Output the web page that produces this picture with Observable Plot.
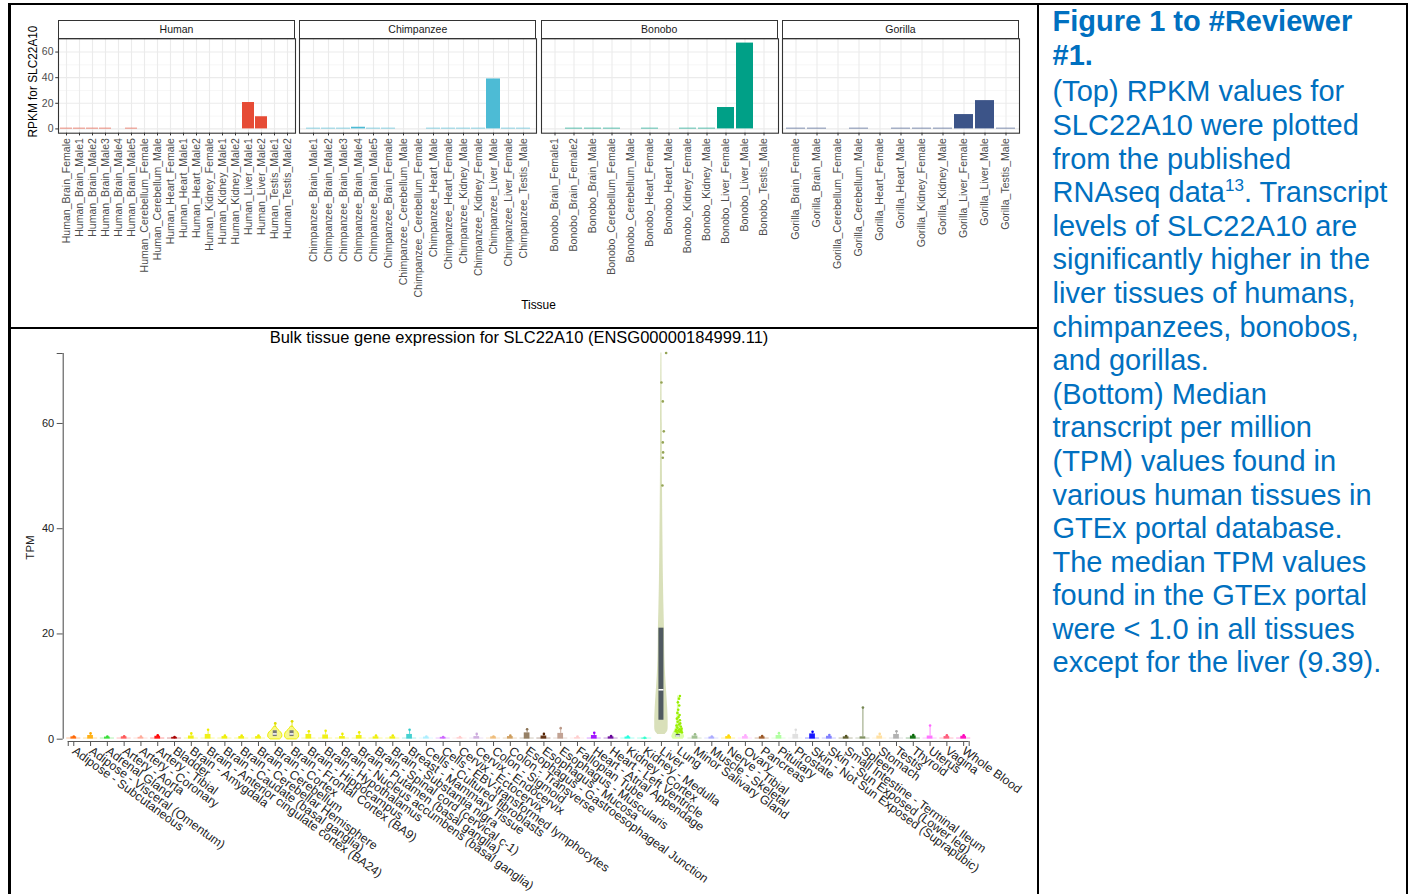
<!DOCTYPE html>
<html>
<head>
<meta charset="utf-8">
<script src="https://cdn.jsdelivr.net/npm/d3@7"></script>
<script src="https://cdn.jsdelivr.net/npm/@observablehq/plot@0.6"></script>
<style>
  body { margin: 0; background: #fff; }
  #page { position: relative; width: 1416px; height: 894px; overflow: hidden; background: #fff;
          font-family: "Liberation Sans", Arial, Helvetica, sans-serif; }
  .line { position: absolute; background: #000; }
  .strip { position: absolute; box-sizing: border-box; border: 1px solid #333; background: #fff;
           font-size: 10.5px; color: #1a1a1a; text-align: center; line-height: 16.5px; }
  #caption { position: absolute; left: 1052.5px; top: 5.2px; font-size: 29px; line-height: 33.6px;
             color: #0070C0; white-space: nowrap; }
  #caption .head { display: block; font-weight: bold; margin-bottom: 3px; }
  #caption sup { font-size: 17px; line-height: 0; vertical-align: 11px; }
  svg { overflow: visible; }
</style>
</head>
<body>
<div id="page">
  <div class="line" style="left:8px;top:2.5px;width:1400px;height:2px"></div>
  <div class="line" style="left:8px;top:2.5px;width:3px;height:892px"></div>
  <div class="line" style="left:1037px;top:2.5px;width:2px;height:892px"></div>
  <div class="line" style="left:1406px;top:2.5px;width:2px;height:892px"></div>
  <div class="line" style="left:8px;top:326.5px;width:1030px;height:2px"></div>
  <div id="caption"><span class="head">Figure 1 to #Reviewer<br>#1.</span>(Top) RPKM values for<br>SLC22A10 were plotted<br>from the published<br>RNAseq data<sup>13</sup>. Transcript<br>levels of SLC22A10 are<br>significantly higher in the<br>liver tissues of humans,<br>chimpanzees, bonobos,<br>and gorillas.<br>(Bottom) Median<br>transcript per million<br>(TPM) values found in<br>various human tissues in<br>GTEx portal database.<br>The median TPM values<br>found in the GTEx portal<br>were &lt; 1.0 in all tissues<br>except for the liver (9.39).</div>
</div>
<script>
// ---------------- TOP: RPKM per species ----------------
const speciesNames = ["Human", "Chimpanzee", "Bonobo", "Gorilla"];
const speciesColors = ["#E64B35", "#4DBBD5", "#00A087", "#3C5488"];

const humanTissues = ["Human_Brain_Female","Human_Brain_Male1","Human_Brain_Male2","Human_Brain_Male3","Human_Brain_Male4","Human_Brain_Male5","Human_Cerebellum_Female","Human_Cerebellum_Male","Human_Heart_Female","Human_Heart_Male1","Human_Heart_Male2","Human_Kidney_Female","Human_Kidney_Male1","Human_Kidney_Male2","Human_Liver_Male1","Human_Liver_Male2","Human_Testis_Male1","Human_Testis_Male2"];
const humanRPKM = [0.5,0.5,0.5,0.5,0,0.5,0,0,0,0,0,0,0,0,20.6,9.5,0,0];

const chimpTissues = ["Chimpanzee_Brain_Male1","Chimpanzee_Brain_Male2","Chimpanzee_Brain_Male3","Chimpanzee_Brain_Male4","Chimpanzee_Brain_Male5","Chimpanzee_Brain_Female","Chimpanzee_Cerebellum_Male","Chimpanzee_Cerebellum_Female","Chimpanzee_Heart_Male","Chimpanzee_Heart_Female","Chimpanzee_Kidney_Male","Chimpanzee_Kidney_Female","Chimpanzee_Liver_Male","Chimpanzee_Liver_Female","Chimpanzee_Testis_Male"];
const chimpRPKM = [0.5,0.5,0.5,1.3,0.5,0.5,0,0,0.5,0.5,0.5,0.5,39.0,0.5,0.5];

const bonoboTissues = ["Bonobo_Brain_Female1","Bonobo_Brain_Female2","Bonobo_Brain_Male","Bonobo_Cerebellum_Female","Bonobo_Cerebellum_Male","Bonobo_Heart_Female","Bonobo_Heart_Male","Bonobo_Kidney_Female","Bonobo_Kidney_Male","Bonobo_Liver_Female","Bonobo_Liver_Male","Bonobo_Testis_Male"];
const bonoboRPKM = [0,0.5,0.5,0.5,0,0.5,0,0.5,0.5,16.7,67.0,0];

const gorillaTissues = ["Gorilla_Brain_Female","Gorilla_Brain_Male","Gorilla_Cerebellum_Female","Gorilla_Cerebellum_Male","Gorilla_Heart_Female","Gorilla_Heart_Male","Gorilla_Kidney_Female","Gorilla_Kidney_Male","Gorilla_Liver_Female","Gorilla_Liver_Male","Gorilla_Testis_Male"];
const gorillaRPKM = [0.5,0.5,0,0.5,0,0.5,0.5,0.5,11.2,22.1,0.5];

const rpkmTicks = [0, 20, 40, 60];
const rpkmMinor = [10, 30, 50];

// ---------------- BOTTOM: GTEx tissues ----------------
const tissues = ["Adipose - Subcutaneous","Adipose - Visceral (Omentum)","Adrenal Gland","Artery - Aorta","Artery - Coronary","Artery - Tibial","Bladder","Brain - Amygdala","Brain - Anterior cingulate cortex (BA24)","Brain - Caudate (basal ganglia)","Brain - Cerebellar Hemisphere","Brain - Cerebellum","Brain - Cortex","Brain - Frontal Cortex (BA9)","Brain - Hippocampus","Brain - Hypothalamus","Brain - Nucleus accumbens (basal ganglia)","Brain - Putamen (basal ganglia)","Brain - Spinal cord (cervical c-1)","Brain - Substantia nigra","Breast - Mammary Tissue","Cells - Cultured fibroblasts","Cells - EBV-transformed lymphocytes","Cervix - Ectocervix","Cervix - Endocervix","Colon - Sigmoid","Colon - Transverse","Esophagus - Gastroesophageal Junction","Esophagus - Mucosa","Esophagus - Muscularis","Fallopian Tube","Heart - Atrial Appendage","Heart - Left Ventricle","Kidney - Cortex","Kidney - Medulla","Liver","Lung","Minor Salivary Gland","Muscle - Skeletal","Nerve - Tibial","Ovary","Pancreas","Pituitary","Prostate","Skin - Not Sun Exposed (Suprapubic)","Skin - Sun Exposed (Lower leg)","Small Intestine - Terminal Ileum","Spleen","Stomach","Testis","Thyroid","Uterus","Vagina","Whole Blood"];
const tissueColors = ["#FF6600","#FFAA00","#33DD33","#FF5555","#FFAA99","#FF0000","#AA0000",
  "#EEEE00","#EEEE00","#EEEE00","#EEEE00","#EEEE00","#EEEE00","#EEEE00","#EEEE00","#EEEE00","#EEEE00","#EEEE00","#EEEE00","#EEEE00",
  "#33CCCC","#AAEEFF","#CC66FF","#FFCCCC","#CCAADD","#EEBB77","#CC9955","#8B7355","#552200","#BB9988","#FFCCCC","#9900FF","#660099","#22FFDD","#33FFCC",
  "#AABB66","#99FF00","#99BB88","#AAAAFF","#FFD700","#FFAAFF","#995522","#AAFF99","#DDDDDD","#0000FF","#7777FF","#555522","#778855","#FFDD99","#AAAAAA","#006600","#FF66FF","#FF5577","#FF00BB"];
// highest visible point (TPM) per tissue
const tissueTop = [0.5,1.1,0.5,0.55,0.5,0.75,0.4,1.1,1.8,0.7,0.7,0.7,3.0,3.4,1.5,1.6,1.0,1.3,0.7,0.7,1.8,0.5,0.4,0.4,1.0,0.5,0.7,1.9,1.0,2.1,0.5,1.2,0.6,0.5,0.25,73.4,8.2,0.95,0.5,0.7,0.75,0.6,1.15,1.8,1.4,0.8,0.6,6.0,1.0,1.5,0.8,2.6,0.75,0.75];
// height of the dense cluster of points (TPM)
const tissueBlob = [0.45,0.7,0.4,0.45,0.35,0.55,0.35,0.6,0.9,0.5,0.5,0.5,0,0,0.9,0.8,0.5,0.7,0.45,0.45,0.9,0.4,0.35,0.3,0.5,0.45,0.5,1.2,0.6,1.1,0.3,0.7,0.45,0.4,0.2,0,0,0.6,0.4,0.5,0.5,0.45,0.7,0.9,1.0,0.55,0.45,0.45,0.6,0.9,0.6,0.6,0.5,0.55];
const violinTissues = ["Brain - Cortex","Brain - Frontal Cortex (BA9)","Liver","Lung"];

// Liver violin (TPM level, half width in category units)
const liverViolinTPM  = [0.9, 1.5, 3, 6, 9, 12, 15, 18, 21, 25, 30, 38, 50, 60, 73.4];
const liverViolinHalf = [0.22,0.37,0.40,0.37,0.31,0.25,0.21,0.19,0.18,0.15,0.12,0.09,0.06,0.05,0.03];
const liverBox = {q1: 3.6, median: 9.39, q3: 21.1};
const liverOutliers   = [73.4, 67.8, 64.2, 58.5, 56.4, 54.5, 53.5, 48.2];
const liverOutlierDx  = [0.28, 0.0, 0.08, 0.14, 0.08, 0.1, 0.08, 0.06];

// Lung violin and points
const lungViolinTPM  = [0, 0.4, 0.9, 1.5, 2.2, 3, 4.1, 6, 8.2];
const lungViolinHalf = [0.30,0.38,0.34,0.24,0.16,0.11,0.08,0.05,0.03];
const lungBox = {q1: 0.35, median: 0.6, q3: 0.9};
const lungPoints = [8.2,7.7,7.0,6.4,5.6,5.0,4.6,4.2,3.9,3.6,3.3,3.0,2.8,2.6,2.4,2.2,2.0,1.9,1.8,1.7,1.6,1.5,1.4,1.3,1.2];
const lungPointDx = [0.1,0.05,-0.02,0.06,0.0,-0.05,0.08,0.02,-0.08,0.1,-0.03,0.12,0.05,-0.1,0.15,-0.05,0.2,0.07,-0.12,0.18,0.0,-0.15,0.1,0.22,-0.05];

// Brain cortex violins
const brainViolinTPM = [0, 0.3, 0.8, 1.3, 1.8, 2.4];
const cortexViolinHalf = [0.30,0.40,0.42,0.34,0.18,0.05];
const frontalViolinHalf = [0.30,0.40,0.42,0.36,0.20,0.06];
const brainBox = {q1: 0.5, median: 1.0, q3: 1.6};

const tpmTicks = [0, 20, 40, 60];

// ======================================================================
const FONT = '"Liberation Sans", Arial, Helvetica, sans-serif';
const page = document.getElementById("page");
function place(node, left, top) {
  const w = document.createElement("div");
  w.style.cssText = `position:absolute;left:${left}px;top:${top}px;`;
  w.appendChild(node);
  page.appendChild(w);
  return w;
}

// ---------- top facets ----------
const facetData = [humanTissues, chimpTissues, bonoboTissues, gorillaTissues];
const facetVals = [humanRPKM, chimpRPKM, bonoboRPKM, gorillaRPKM];
const panelLefts = [58, 299.3, 540.7, 782];
const PW = 237, PH = 94.4, STRIP = 18.3, FH = 285;

speciesNames.forEach((name, k) => {
  const cats = facetData[k];
  const data = cats.map((c, i) => ({tissue: c, rpkm: facetVals[k][i]}));
  const showY = k === 0;
  const ML = showY ? 58 : 0;
  const marks = [
    Plot.gridY(rpkmMinor, {stroke: "#f3f3f3", strokeOpacity: 1, strokeWidth: 0.7}),
    Plot.gridY(rpkmTicks, {stroke: "#ebebeb", strokeOpacity: 1, strokeWidth: 1.1}),
    Plot.gridX({stroke: "#ebebeb", strokeOpacity: 1, strokeWidth: 1.1}),
    Plot.barY(data, {x: "tissue", y: "rpkm", fill: speciesColors[k]}),
    Plot.frame({stroke: "#333", strokeWidth: 1.1}),
    Plot.axisX({tickRotate: -90, tickSize: 2.75, tickPadding: 2.2, stroke: "#333", fill: "#4d4d4d", label: null})
  ];
  if (showY) {
    marks.push(Plot.axisY({ticks: rpkmTicks, tickSize: 2.75, tickPadding: 2.2, stroke: "#333", fill: "#4d4d4d", label: null}));
    marks.push(Plot.text(["RPKM for SLC22A10"], {frameAnchor: "left", textAnchor: "middle", rotate: -90, dx: -25.5, dy: -4.5,
      fill: "#000", fontSize: 11.85}));
  }
  const chart = Plot.plot({
    width: ML + PW, height: FH,
    marginLeft: ML, marginRight: 0, marginTop: STRIP, marginBottom: FH - STRIP - PH,
    style: {fontFamily: FONT, fontSize: "10.5px", color: "#4d4d4d", background: "transparent", overflow: "visible"},
    x: {type: "band", domain: cats, paddingInner: 0.1, paddingOuter: 0.15},
    y: showY ? {domain: [-3.35, 70.35]} : {domain: [-3.35, 70.35], axis: null},
    marks
  });
  place(chart, panelLefts[k] - ML, 20);
  const strip = document.createElement("div");
  strip.className = "strip";
  strip.style.cssText = `left:${panelLefts[k]}px;top:20px;width:${PW}px;height:${STRIP + 0.6}px;`;
  strip.textContent = name;
  page.appendChild(strip);
});

const tissueLabel = document.createElement("div");
tissueLabel.style.cssText = `position:absolute;left:${panelLefts[0]}px;width:${panelLefts[3] + PW - panelLefts[0]}px;top:298px;text-align:center;font-size:11.9px;line-height:14px;color:#000;`;
tissueLabel.textContent = "Tissue";
page.appendChild(tissueLabel);

// ---------- bottom GTEx violin chart ----------
const title = document.createElement("div");
title.style.cssText = "position:absolute;left:0;width:1038px;top:327px;text-align:center;font-size:16.5px;line-height:20px;color:#000;";
title.textContent = "Bulk tissue gene expression for SLC22A10 (ENSG00000184999.11)";
page.appendChild(title);

const gtex = tissues.map((t, i) => ({i, tissue: t, color: tissueColors[i], top: tissueTop[i], blob: tissueBlob[i]}));
const small = gtex.filter(d => !violinTissues.includes(d.tissue));
const liverI = tissues.indexOf("Liver");
const lungI = tissues.indexOf("Lung");
const cortexI = tissues.indexOf("Brain - Cortex");
const frontalI = tissues.indexOf("Brain - Frontal Cortex (BA9)");

const violin = (ys, hs, c) => ys.map((y, k) => ({y, x1: c - hs[k], x2: c + hs[k]}));
const liverShape = violin(liverViolinTPM, liverViolinHalf, liverI);
const lungShape = violin(lungViolinTPM, lungViolinHalf, lungI);
const cortexShape = violin(brainViolinTPM, cortexViolinHalf, cortexI);
const frontalShape = violin(brainViolinTPM, frontalViolinHalf, frontalI);
const boxes = [
  {c: liverI, w: 0.15, ...liverBox, fill: "#505a61"},
  {c: lungI, w: 0.12, ...lungBox, fill: "#505a61"},
  {c: cortexI, w: 0.12, ...brainBox, fill: "#777777"},
  {c: frontalI, w: 0.12, ...brainBox, fill: "#777777"}
];
const liverPts = liverOutliers.map((v, k) => ({x: liverI + liverOutlierDx[k], y: v}));
const lungPts = lungPoints.map((v, k) => ({x: lungI + lungPointDx[k], y: v}));
const brainTops = [cortexI, frontalI].map(i => ({x: i, y: tissueTop[i]}));

const xMin = -0.63, xAxisStart = -0.33, xAxisEnd = 53.33, yMin = -0.44, yAxisTop = 73.3;

const gtexChart = Plot.plot({
  width: 1040, height: 554,
  marginLeft: 62.7, marginRight: 71.3, marginTop: 13, marginBottom: 153,
  style: {fontFamily: FONT, fontSize: "12.3px", color: "#222", background: "transparent", overflow: "visible"},
  x: {type: "linear", domain: [xMin, xAxisEnd]},
  y: {domain: [yMin, yAxisTop]},
  marks: [
    // small tissues
    Plot.rect(small, {x1: d => d.i - 0.42, x2: d => d.i + 0.42, y1: 0, y2: 0.25, fill: "color", fillOpacity: 0.3}),
    Plot.rect(small, {x1: d => d.i - 0.17, x2: d => d.i + 0.17, y1: 0.02, y2: "blob", fill: "color", fillOpacity: 0.9}),
    Plot.ruleX(small.filter(d => d.top > d.blob), {x: "i", y1: "blob", y2: "top", stroke: "color", strokeWidth: 1, strokeOpacity: 0.8}),
    Plot.dot(small, {x: "i", y: "top", r: 1.3, fill: "color", stroke: "none"}),
    // brain cortex violins
    Plot.areaX(cortexShape, {y: "y", x1: "x1", x2: "x2", fill: "#EEEE00", fillOpacity: 0.45, stroke: "#EEEE00", strokeWidth: 1, curve: "catmull-rom"}),
    Plot.areaX(frontalShape, {y: "y", x1: "x1", x2: "x2", fill: "#EEEE00", fillOpacity: 0.45, stroke: "#EEEE00", strokeWidth: 1, curve: "catmull-rom"}),
    Plot.ruleX(brainTops, {x: "x", y1: 2.2, y2: "y", stroke: "#dddd00", strokeWidth: 0.8}),
    Plot.dot(brainTops, {x: "x", y: "y", r: 1.4, fill: "#dddd00", stroke: "none"}),
    // liver violin
    Plot.areaX(liverShape, {y: "y", x1: "x1", x2: "x2", fill: "#AABB66", fillOpacity: 0.45, curve: "catmull-rom"}),
    // lung violin
    Plot.areaX(lungShape, {y: "y", x1: "x1", x2: "x2", fill: "#99FF00", fillOpacity: 0.35, curve: "catmull-rom"}),
    Plot.dot(lungPts, {x: "x", y: "y", r: 1.3, fill: "#99EE00", stroke: "none"}),
    // boxes
    Plot.rect(boxes, {x1: d => d.c - d.w, x2: d => d.c + d.w, y1: "q1", y2: "q3", fill: "fill"}),
    Plot.ruleY(boxes, {y: "median", x1: d => d.c - d.w, x2: d => d.c + d.w, stroke: "#fff", strokeWidth: 1.5}),
    Plot.dot(liverPts, {x: "x", y: "y", r: 1.3, fill: "#95A455", stroke: "none"}),
    // axis lines
    Plot.ruleX([xMin], {y1: 0, y2: yAxisTop, stroke: "#555", strokeWidth: 1.1}),
    Plot.ruleY([yMin], {x1: xAxisStart, x2: xAxisEnd, stroke: "#555", strokeWidth: 1.1}),
    Plot.axisY({ticks: [...tpmTicks, yAxisTop], tickFormat: d => d > 70 ? "" : d, tickSize: 6, tickPadding: 3,
      stroke: "#555", fill: "#222", fontSize: 11, label: null}),
    Plot.axisX({ticks: [xAxisStart, ...d3.range(tissues.length), xAxisEnd], tickFormat: d => tissues[d] ?? "",
      tickRotate: 36, tickSize: 5, tickPadding: 3, stroke: "#555", fill: "#222", label: null}),
    Plot.text(["TPM"], {frameAnchor: "left", textAnchor: "middle", rotate: -90, dx: -33, fill: "#222", fontSize: 11.5})
  ]
});
place(gtexChart, 0, 340);
</script>
</body>
</html>
